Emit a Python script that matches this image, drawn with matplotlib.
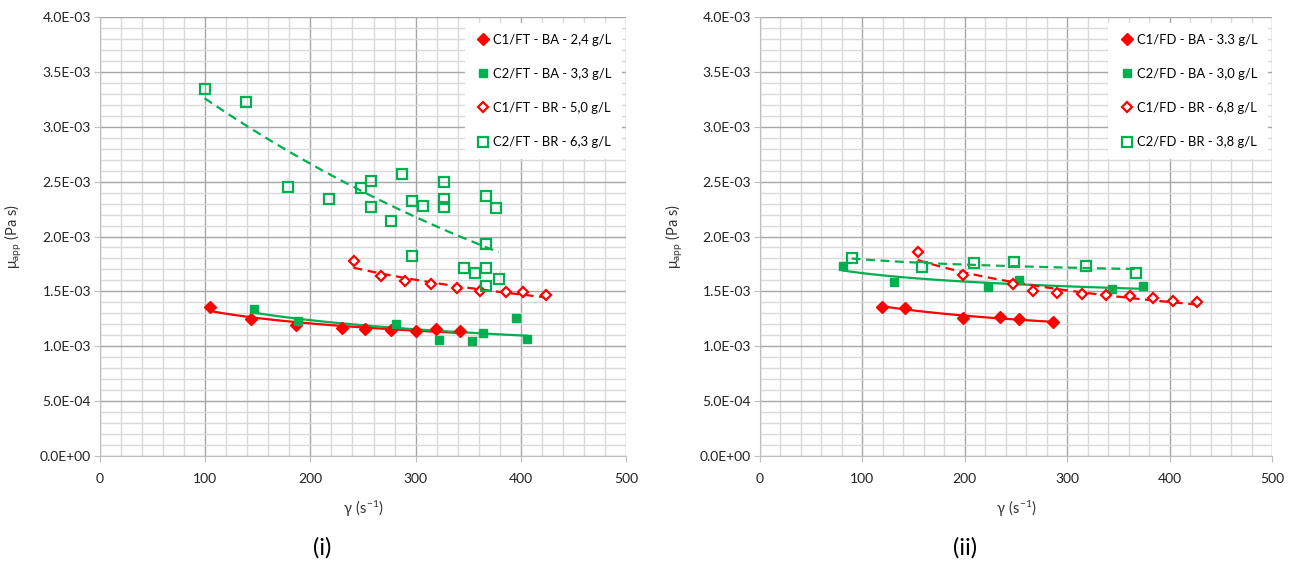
import numpy as np
import matplotlib
matplotlib.use("Agg")
import matplotlib.pyplot as plt
from matplotlib.ticker import MultipleLocator, FuncFormatter

plt.rcParams['font.family'] = ['Lato', 'DejaVu Sans']

RED = '#FF0000'
GREEN = '#00B050'

# ---- panel (i) ----
ft_ba1_x = [105, 144, 186, 230, 252, 277, 300, 319, 342]
ft_ba1_y = [1.36e-3, 1.25e-3, 1.19e-3, 1.165e-3, 1.155e-3, 1.148e-3, 1.142e-3, 1.16e-3, 1.142e-3]
ft_ba2_x = [146, 188, 281, 322, 354, 364, 395, 406]
ft_ba2_y = [1.337e-3, 1.233e-3, 1.203e-3, 1.057e-3, 1.045e-3, 1.121e-3, 1.257e-3, 1.066e-3]
ft_br1_x = [241, 267, 290, 315, 339, 361, 386, 402, 424]
ft_br1_y = [1.777e-3, 1.64e-3, 1.594e-3, 1.564e-3, 1.528e-3, 1.506e-3, 1.491e-3, 1.491e-3, 1.464e-3]
ft_br2_x = [99.5, 139, 179, 218, 248, 258, 258, 277, 287, 297, 307, 297,
            327, 327, 327, 367, 376, 367, 346, 356, 367, 379, 367]
ft_br2_y = [3.341e-3, 3.222e-3, 2.454e-3, 2.345e-3, 2.445e-3, 2.506e-3, 2.269e-3,
            2.139e-3, 2.569e-3, 2.321e-3, 2.281e-3, 1.822e-3, 2.5e-3, 2.342e-3,
            2.266e-3, 2.372e-3, 2.257e-3, 1.932e-3, 1.716e-3, 1.67e-3, 1.716e-3,
            1.61e-3, 1.549e-3]
labels_i = ['C1/FT - BA - 2,4 g/L', 'C2/FT - BA - 3,3 g/L',
            'C1/FT - BR - 5,0 g/L', 'C2/FT - BR - 6,3 g/L']

# ---- panel (ii) ----
fd_ba1_x = [119, 142, 198, 234, 253, 286]
fd_ba1_y = [1.36e-3, 1.349e-3, 1.26e-3, 1.264e-3, 1.248e-3, 1.218e-3]
fd_ba2_x = [81, 131, 223, 253, 344, 374]
fd_ba2_y = [1.734e-3, 1.583e-3, 1.537e-3, 1.604e-3, 1.519e-3, 1.549e-3]
fd_br1_x = [154, 198, 247, 267, 290, 314, 338, 361, 384, 403, 427]
fd_br1_y = [1.859e-3, 1.652e-3, 1.567e-3, 1.506e-3, 1.482e-3, 1.479e-3, 1.464e-3,
            1.458e-3, 1.437e-3, 1.415e-3, 1.403e-3]
fd_br2_x = [89.5, 158.5, 209, 248, 318, 367]
fd_br2_y = [1.804e-3, 1.722e-3, 1.759e-3, 1.765e-3, 1.728e-3, 1.67e-3]
labels_ii = ['C1/FD - BA - 3.3 g/L', 'C2/FD - BA - 3,0 g/L',
             'C1/FD - BR - 6,8 g/L', 'C2/FD - BR - 3,8 g/L']


def trend(ax, x, y, color, ls, kind='pow'):
    # Excel-style trendline fitted on ln(y)
    x = np.asarray(x, float)
    y = np.asarray(y, float)
    xs = np.linspace(x.min(), x.max(), 100)
    if kind == 'exp':
        b, lna = np.polyfit(x, np.log(y), 1)
        ys = np.exp(lna + b * xs)
    else:
        b, lna = np.polyfit(np.log(x), np.log(y), 1)
        ys = np.exp(lna) * xs ** b
    if ls == '--':
        ax.plot(xs, ys, color=color, lw=1.6, dashes=(4, 2.5), zorder=3)
    else:
        ax.plot(xs, ys, color=color, lw=1.6, zorder=3)


def style_axes(ax):
    ax.set_xlim(0, 500)
    ax.set_ylim(0, 4e-3)
    ax.xaxis.set_major_locator(MultipleLocator(100))
    ax.xaxis.set_minor_locator(MultipleLocator(20))
    ax.yaxis.set_major_locator(MultipleLocator(5e-4))
    ax.yaxis.set_minor_locator(MultipleLocator(1e-4))
    ax.yaxis.set_major_formatter(FuncFormatter(lambda v, p: f"{v:.1E}"))
    ax.grid(which='major', color='#A6A6A6', lw=1.0, zorder=0)
    ax.grid(which='minor', color='#D9D9D9', lw=1.0, zorder=0)
    ax.set_axisbelow(True)
    for s in ['top', 'right']:
        ax.spines[s].set_visible(False)
    for s in ['left', 'bottom']:
        ax.spines[s].set_color('#BFBFBF')
    ax.tick_params(which='major', length=4.5, color='#BFBFBF', labelsize=10,
                   labelcolor='#222222')
    ax.tick_params(axis='y', pad=2)
    ax.tick_params(axis='x', pad=8)
    ax.tick_params(which='minor', length=0)
    ax.set_ylabel(r'$\mathregular{\mu_{app}}$ (Pa s)', fontsize=10.5, color='#333333')
    ax.set_xlabel(r'$\mathregular{\gamma\ (s^{-1})}$', fontsize=10.5, color='#333333')


def draw(ax, data, labels, kinds):
    (x1, y1), (x2, y2), (x3, y3), (x4, y4) = data
    ax.plot(x1, y1, 'D', color=RED, ms=6, ls='none', label=labels[0], zorder=4)
    ax.plot(x2, y2, 's', color=GREEN, ms=5.5, ls='none', label=labels[1], zorder=4)
    ax.plot(x3, y3, 'D', mfc='white', mec=RED, mew=1.6, ms=5.5, ls='none',
            label=labels[2], zorder=4)
    ax.plot(x4, y4, 's', mfc='none', mec=GREEN, mew=1.6, ms=7.5, ls='none',
            label=labels[3], zorder=4)
    trend(ax, x1, y1, RED, '-', kinds[0])
    trend(ax, x2, y2, GREEN, '-', kinds[1])
    trend(ax, x3, y3, RED, '--', kinds[2])
    trend(ax, x4, y4, GREEN, '--', kinds[3])
    leg = ax.legend(loc='upper right', bbox_to_anchor=(1.0, 0.995), frameon=True,
                    fontsize=9.4, handletextpad=0.1, labelspacing=1.7,
                    handlelength=1.3, borderpad=0.8, borderaxespad=0.3,
                    fancybox=False)
    leg.get_frame().set_edgecolor('none')
    leg.get_frame().set_facecolor('white')
    leg.get_frame().set_alpha(1.0)
    leg.set_zorder(5)


fig = plt.figure(figsize=(12.95, 5.63), dpi=100)
ax1 = fig.add_axes([100 / 1295, 107 / 563, 526 / 1295, 439 / 563])
ax2 = fig.add_axes([760 / 1295, 107 / 563, 512 / 1295, 439 / 563])

draw(ax1, [(ft_ba1_x, ft_ba1_y), (ft_ba2_x, ft_ba2_y), (ft_br1_x, ft_br1_y),
           (ft_br2_x, ft_br2_y)], labels_i, ['pow', 'pow', 'pow', 'exp'])
draw(ax2, [(fd_ba1_x, fd_ba1_y), (fd_ba2_x, fd_ba2_y), (fd_br1_x, fd_br1_y),
           (fd_br2_x, fd_br2_y)], labels_ii, ['pow', 'pow', 'pow', 'pow'])
style_axes(ax1)
style_axes(ax2)
ax1.xaxis.set_label_coords(0.5, -0.098)
ax2.xaxis.set_label_coords(0.5, -0.098)
ax1.yaxis.set_label_coords(-0.145, 0.5)
ax2.yaxis.set_label_coords(-0.147, 0.5)

fig.text(322 / 1295, 1 - 548 / 563, '(i)', fontsize=17, ha='center', va='center')
fig.text(965 / 1295, 1 - 548 / 563, '(ii)', fontsize=17, ha='center', va='center')

fig.savefig('out.png', dpi=100)
